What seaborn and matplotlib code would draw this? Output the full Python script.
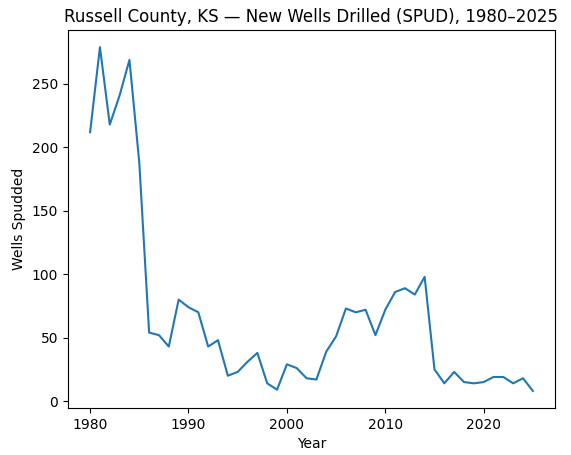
import matplotlib
matplotlib.use("Agg")
import matplotlib.pyplot as plt
import seaborn as sns
import pandas as pd

# Wells spudded per year
years = list(range(1980, 2026))
wells = [212, 279, 218, 241, 269, 188, 54, 52, 43, 80,
         74, 70, 43, 48, 20, 23, 31, 38, 14, 9,
         29, 26, 18, 17, 39, 51, 73, 70, 72, 52,
         72, 86, 89, 84, 98, 25, 14, 23, 15, 14,
         15, 19, 19, 14, 18, 8]

df = pd.DataFrame({"Year": years, "Wells Spudded": wells})

fig, ax = plt.subplots(figsize=(5.71, 4.55), dpi=100)
sns.lineplot(data=df, x="Year", y="Wells Spudded", ax=ax, color="#1f77b4")
ax.set_title("Russell County, KS \u2014 New Wells Drilled (SPUD), 1980\u20132025")
ax.set_xlabel("Year")
ax.set_ylabel("Wells Spudded")
fig.subplots_adjust(left=0.119, right=0.972, bottom=0.103, top=0.934)
fig.savefig("out.png", dpi=100)
